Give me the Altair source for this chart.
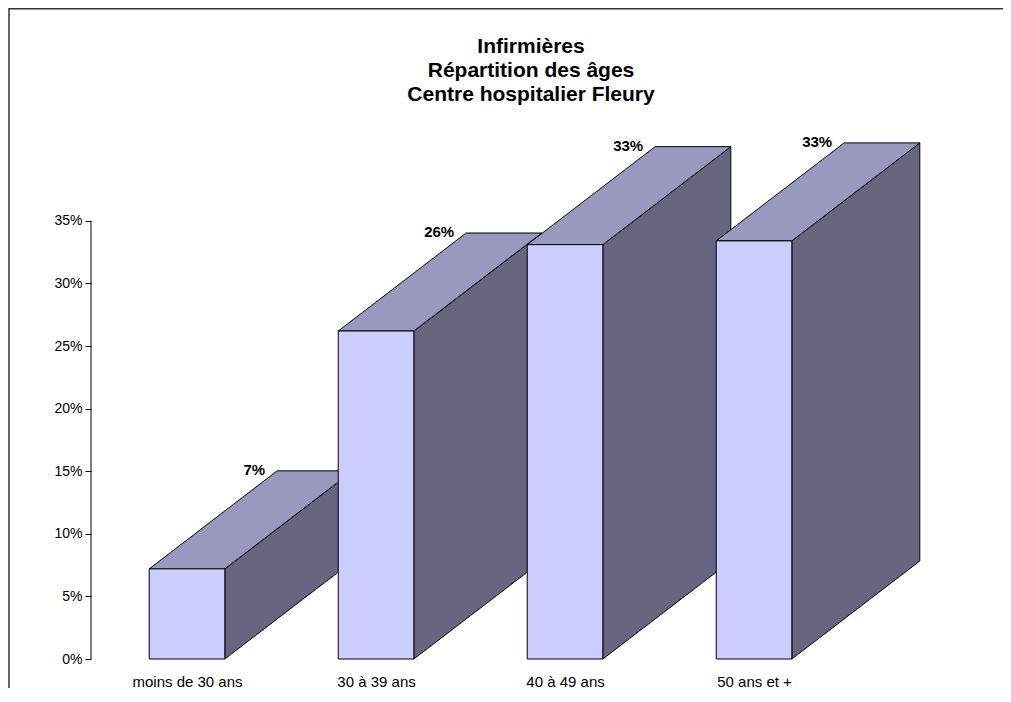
import json
import altair as alt
import pandas as pd

# ---- data ----
categories = ["moins de 30 ans", "30 à 39 ans", "40 à 49 ans", "50 ans et +"]
values = [0.072, 0.262, 0.331, 0.334]
y_ticks = [0, 0.05, 0.10, 0.15, 0.20, 0.25, 0.30, 0.35]
title_lines = ["Infirmières", "Répartition des âges", "Centre hospitalier Fleury"]

# ---- 3D styling parameters ----
half_w = 0.2        # half width of a bar front (category units)
depth_x = 0.677     # horizontal depth offset (category units)
depth_y = 0.0783    # vertical depth offset (value units)

FONT = "Liberation Sans"
FRONT = "#CCCCFF"
TOP = "#9999C0"
SIDE = "#666680"

front_rows, top_rows, side_rows, label_rows = [], [], [], []
for i, (c, v) in enumerate(zip(categories, values)):
    front_rows.append({"bar": i, "x0": i - half_w, "x1": i + half_w, "v": v})
    top_rows.append({"bar": i, "y": v, "xl": i - half_w, "xr": i + half_w})
    top_rows.append({"bar": i, "y": v + depth_y, "xl": i - half_w + depth_x, "xr": i + half_w + depth_x})
    side_rows.append({"bar": i, "x": i + half_w, "ylo": 0.0, "yhi": v})
    side_rows.append({"bar": i, "x": i + half_w + depth_x, "ylo": depth_y, "yhi": v + depth_y})
    label_rows.append({"bar": i, "lx": i - half_w + depth_x, "ly": v + depth_y, "v": v})

front_df = pd.DataFrame(front_rows)
top_df = pd.DataFrame(top_rows)
side_df = pd.DataFrame(side_rows)
label_df = pd.DataFrame(label_rows)
axis_df = pd.DataFrame({"y0": [min(y_ticks)], "y1": [max(y_ticks)]})

W, H = 829, 517
x_scale = alt.Scale(domain=[-0.508, 3.878], nice=False, zero=False)
y_scale = alt.Scale(domain=[0, 0.413], nice=False, zero=False)

label_expr = "[" + ",".join(json.dumps(c, ensure_ascii=False) for c in categories) + "][datum.value]"

x_axis = alt.Axis(values=list(range(len(categories))), labelExpr=label_expr, ticks=False,
                  tickSize=0, domain=False, grid=False, title=None, labelFont=FONT,
                  labelFontSize=15, labelColor="#000", labelPadding=15, labelBaseline="top")
y_axis = alt.Axis(values=y_ticks, format=".0%", domain=False, grid=False, title=None,
                  tickSize=6, tickColor="#000", labelFont=FONT, labelFontSize=14,
                  labelColor="#000", labelPadding=3)

frame = alt.Chart(pd.DataFrame({"a": [0]})).mark_rect(
    fillOpacity=0, stroke="#333333", strokeWidth=1.5
).encode(x=alt.value(-82), x2=alt.value(3000), y=alt.value(-133.2), y2=alt.value(3000))

sides = alt.Chart(side_df).mark_area(
    orient="vertical", color=SIDE, stroke="#000", strokeWidth=1, opacity=1
).encode(
    x=alt.X("x:Q", scale=x_scale, axis=x_axis),
    y=alt.Y("ylo:Q", scale=y_scale, axis=y_axis),
    y2="yhi:Q",
    detail="bar:N",
)

tops = alt.Chart(top_df).mark_area(
    orient="horizontal", color=TOP, stroke="#000", strokeWidth=1, opacity=1
).encode(
    y=alt.Y("y:Q", scale=y_scale),
    x=alt.X("xl:Q", scale=x_scale),
    x2="xr:Q",
    detail="bar:N",
)

fronts = alt.Chart(front_df).mark_rect(
    color=FRONT, stroke="#000", strokeWidth=1
).encode(
    x=alt.X("x0:Q", scale=x_scale),
    x2="x1:Q",
    y=alt.Y("v:Q", scale=y_scale),
    y2=alt.datum(0),
)

labels = alt.Chart(label_df).mark_text(
    align="right", baseline="alphabetic", dx=-12, dy=4, font=FONT, fontSize=15,
    fontWeight="bold", color="#000"
).encode(
    x=alt.X("lx:Q", scale=x_scale),
    y=alt.Y("ly:Q", scale=y_scale),
    text=alt.Text("v:Q", format=".0%"),
)

axis_line = alt.Chart(axis_df).mark_rule(color="#000", strokeWidth=1).encode(
    x=alt.value(0),
    y=alt.Y("y0:Q", scale=y_scale),
    y2="y1:Q",
)

title = alt.Chart(pd.DataFrame({"a": [0]})).mark_text(
    text=title_lines, align="center", baseline="alphabetic", font=FONT, fontSize=21,
    fontWeight="bold", lineHeight=24, color="#000"
).encode(x=alt.value(440), y=alt.value(-89))

chart = alt.layer(frame, sides, tops, fronts, labels, axis_line, title).properties(
    width=W, height=H,
    background="white",
    autosize=alt.AutoSizeParams(type="none"),
    padding={"left": 83, "top": 134, "right": 83, "bottom": 29},
).configure_view(strokeWidth=0, stroke="transparent")

chart.save("out.html", embed_options={"renderer": "svg", "actions": False})
